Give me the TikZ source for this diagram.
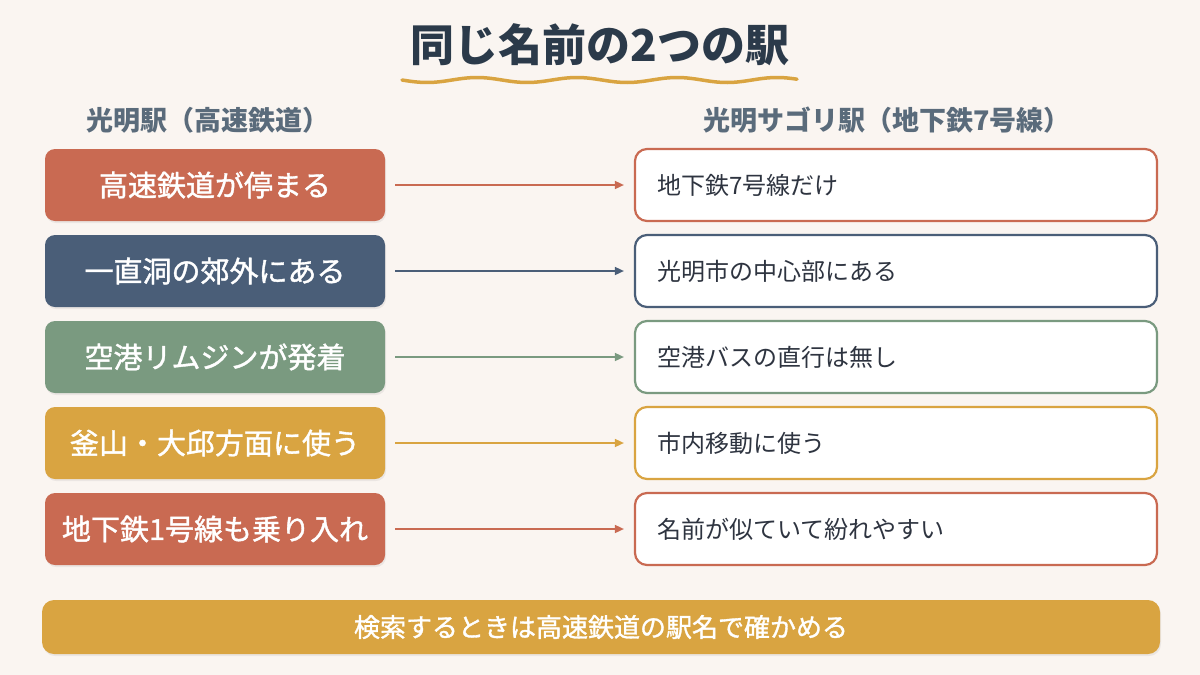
\documentclass[tikz,border=0pt]{standalone}
\usepackage{fontspec}
\setmainfont{Noto Sans CJK JP}
\newfontfamily\medfont[FakeBold=1.3]{Noto Sans CJK JP}
\usetikzlibrary{arrows.meta,shadows}
\definecolor{bg}{HTML}{FAF5F1}
\definecolor{terra}{HTML}{C96A52}
\definecolor{navy}{HTML}{4A5E78}
\definecolor{sage}{HTML}{7A9A80}
\definecolor{gold}{HTML}{D9A441}
\definecolor{titlec}{HTML}{2B3A4A}
\definecolor{headc}{HTML}{5A6B7B}
\definecolor{bodyc}{HTML}{2E3440}
\tikzset{
  lbox/.style={rounded corners=10pt, minimum width=340pt, minimum height=72pt, text=white, font=\medfont\fontsize{29}{34}\selectfont, inner sep=0pt, drop shadow={shadow xshift=1pt, shadow yshift=-2pt, opacity=0.12}},
  rbox/.style={rounded corners=12pt, fill=white, line width=2.2pt, minimum height=72pt, text width=478pt, inner xsep=22pt, align=left, text=bodyc, font=\fontsize{24}{28}\selectfont},
  conn/.style={line width=1.6pt, -{Triangle[length=9pt,width=8pt]}, shorten <=10pt, shorten >=10pt},
  head/.style={text=headc, font=\bfseries\fontsize{27}{32}\selectfont},
}
\begin{document}
\begin{tikzpicture}[x=1pt,y=-1pt]
\fill[bg] (0,0) rectangle (1200,675);
\useasboundingbox (0,0) rectangle (1200,675);
\node[text=titlec, font=\bfseries\fontsize{44}{52}\selectfont] (title) at (600,45) {同じ名前の2つの駅};
\draw[gold, line width=3.5pt, line cap=round] plot[domain=402:797, samples=120] (\x, {80+2.5*sin((\x-402)*3.6)});
\node[head] (hl) at (208,120) {光明駅（高速鉄道）};
\node[head] (hr) at (887,120) {光明サゴリ駅（地下鉄7号線）};
% left boxes
\node[lbox, fill=terra] (l1) at (215,185) {高速鉄道が停まる};
\node[lbox, fill=navy]  (l2) at (215,271) {一直洞の郊外にある};
\node[lbox, fill=sage]  (l3) at (215,357) {空港リムジンが発着};
\node[lbox, fill=gold]  (l4) at (215,443) {釜山・大邱方面に使う};
\node[lbox, fill=terra] (l5) at (215,529) {地下鉄1号線も乗り入れ};
% right boxes
\node[rbox, draw=terra] (r1) at (896,185) {地下鉄7号線だけ};
\node[rbox, draw=navy]  (r2) at (896,271) {光明市の中心部にある};
\node[rbox, draw=sage]  (r3) at (896,357) {空港バスの直行は無し};
\node[rbox, draw=gold]  (r4) at (896,443) {市内移動に使う};
\node[rbox, draw=terra] (r5) at (896,529) {名前が似ていて紛れやすい};
% connectors
\draw[conn, terra] (l1.east) -- (r1.west);
\draw[conn, navy]  (l2.east) -- (r2.west);
\draw[conn, sage]  (l3.east) -- (r3.west);
\draw[conn, gold]  (l4.east) -- (r4.west);
\draw[conn, terra] (l5.east) -- (r5.west);
% bottom bar
\node[fill=gold, rounded corners=12pt, minimum width=1118pt, minimum height=54pt, text=white, font=\medfont\fontsize{26}{30}\selectfont, drop shadow={shadow xshift=1pt, shadow yshift=-2pt, opacity=0.12}] (bar) at (601,627) {検索するときは高速鉄道の駅名で確かめる};
\end{tikzpicture}
\end{document}
